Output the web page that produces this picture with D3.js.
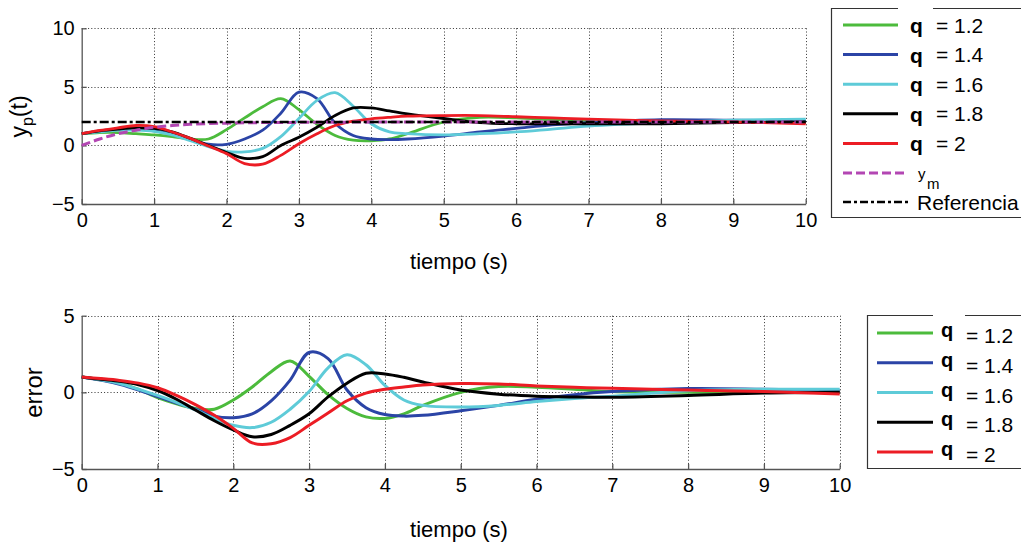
<!DOCTYPE html>
<html>
<head>
<meta charset="utf-8">
<script src="https://cdn.jsdelivr.net/npm/d3@7"></script>
<style>
  body { margin: 0; background: #fff; }
  svg { display: block; }
  text { font-family: "Liberation Sans", Arial, sans-serif; fill: #000; }
</style>
</head>
<body>
<svg id="chart" width="1021" height="543"></svg>
<script>
// Sample times (s)
const time = [0, 0.25, 0.5, 0.75, 1, 1.25, 1.5, 1.75, 2, 2.25, 2.5, 2.75, 3, 3.25, 3.5, 3.75, 4, 4.25, 4.5, 5, 5.5, 6, 6.5, 7, 8, 9, 10];

// Plant output y_p(t) for each fractional order q
const ypQ12 = [1.0, 1.1, 1.1, 1.0, 0.9, 0.75, 0.55, 0.55, 1.35, 2.35, 3.3, 4.0, 3.05, 1.8, 0.85, 0.45, 0.4, 0.55, 1.0, 2.0, 2.4, 2.35, 2.2, 2.05, 1.95, 1.95, 1.95];
const ypQ14 = [1.0, 1.2, 1.35, 1.4, 1.25, 0.95, 0.5, 0.1, 0.1, 0.55, 1.3, 2.75, 4.55, 4.0, 1.9, 0.85, 0.55, 0.5, 0.55, 0.8, 1.15, 1.45, 1.75, 1.95, 2.2, 2.15, 2.1];
const ypQ16 = [1.0, 1.15, 1.3, 1.3, 1.2, 0.9, 0.4, -0.1, -0.5, -0.55, -0.25, 0.75, 2.3, 3.85, 4.5, 3.35, 1.85, 1.15, 1.0, 0.9, 1.0, 1.15, 1.4, 1.65, 1.95, 2.15, 2.25];
const ypQ18 = [1.0, 1.25, 1.4, 1.5, 1.45, 1.15, 0.6, 0.0, -0.6, -1.1, -0.95, 0.0, 0.7, 1.55, 2.55, 3.2, 3.2, 2.95, 2.7, 2.3, 1.95, 1.85, 1.85, 1.85, 1.85, 1.95, 2.0];
const ypQ20 = [1.0, 1.28, 1.5, 1.7, 1.6, 1.15, 0.6, -0.05, -0.7, -1.55, -1.6, -0.85, 0.15, 1.0, 1.7, 2.07, 2.27, 2.4, 2.5, 2.55, 2.55, 2.45, 2.35, 2.25, 2.1, 2.0, 1.85];

// Reference model output y_m and set point
const ym = [0, 0.55, 1.0, 1.3, 1.55, 1.7, 1.8, 1.86, 1.9, 1.93, 1.95, 1.96, 1.97, 1.98, 1.98, 1.99, 1.99, 2.0, 2.0, 2.0, 2.0, 2.0, 2.0, 2.0, 2.0, 2.0, 2.0];
const refTime = [0, 10];
const referencia = [2, 2];

// Tracking error for each q
const errQ12 = [1.0, 0.82, 0.6, 0.2, -0.35, -0.75, -1.05, -1.1, -0.5, 0.35, 1.35, 2.05, 1.05, -0.15, -1.05, -1.6, -1.7, -1.4, -0.85, 0.0, 0.38, 0.33, 0.2, 0.05, 0.0, 0.0, 0.0];
const errQ14 = [1.0, 0.8, 0.52, 0.15, -0.28, -0.7, -1.1, -1.55, -1.65, -1.4, -0.55, 0.8, 2.6, 2.2, 0.15, -1.0, -1.45, -1.55, -1.5, -1.2, -0.85, -0.45, -0.15, 0.05, 0.25, 0.2, 0.1];
const errQ16 = [1.0, 0.82, 0.58, 0.2, -0.2, -0.65, -1.15, -1.7, -2.15, -2.3, -1.95, -1.1, 0.05, 1.6, 2.45, 1.8, 0.45, -0.5, -0.85, -0.95, -0.85, -0.6, -0.4, -0.25, 0.1, 0.2, 0.2];
const errQ18 = [1.0, 0.85, 0.72, 0.5, 0.12, -0.45, -1.15, -1.85, -2.45, -2.9, -2.75, -2.15, -1.4, -0.3, 0.6, 1.25, 1.2, 0.98, 0.68, 0.15, -0.12, -0.25, -0.3, -0.32, -0.2, -0.05, 0.0];
const errQ20 = [1.0, 0.9, 0.78, 0.6, 0.3, -0.2, -0.8, -1.5, -2.35, -3.3, -3.35, -2.95, -2.15, -1.35, -0.55, -0.05, 0.2, 0.35, 0.48, 0.58, 0.55, 0.42, 0.33, 0.26, 0.15, 0.05, -0.1];

const qLabels = ["1.2", "1.4", "1.6", "1.8", "2"];
const qColors = ["#4cbb3c", "#2b44a6", "#5ecbd8", "#000000", "#ec1c24"];
const ymColor = "#b346b3";

const xTicks = [0, 1, 2, 3, 4, 5, 6, 7, 8, 9, 10];
const yTicksTop = [-5, 0, 5, 10];
const yTicksBottom = [-5, 0, 5];

const svg = d3.select("#chart");
svg.append("rect").attr("width", 1021).attr("height", 543).attr("fill", "#fff");

function panel(opts) {
  const x = d3.scaleLinear().domain([0, 10]).range([opts.left, opts.right]);
  const y = d3.scaleLinear().domain(opts.yDomain).range([opts.bottom, opts.top]);
  const g = svg.append("g");

  // dotted grid
  const grid = g.append("g").attr("stroke", "#333").attr("stroke-width", 1)
    .attr("stroke-dasharray", "1,2.2");
  grid.selectAll("line.v").data(xTicks.filter(t => t > 0)).join("line")
    .attr("x1", d => Math.round(x(d)) + 0.5).attr("x2", d => Math.round(x(d)) + 0.5)
    .attr("y1", opts.top).attr("y2", opts.bottom);
  grid.selectAll("line.h").data(opts.yTicks.filter(t => t > opts.yDomain[0])).join("line")
    .attr("y1", d => Math.round(y(d)) + 0.5).attr("y2", d => Math.round(y(d)) + 0.5)
    .attr("x1", opts.left).attr("x2", opts.right);

  // axes with inward ticks
  const xAxis = d3.axisBottom(x).tickValues(xTicks).tickSizeInner(-5).tickSizeOuter(0).tickPadding(opts.xPad);
  const yAxis = d3.axisLeft(y).tickValues(opts.yTicks).tickSizeInner(-5).tickSizeOuter(0).tickPadding(7);
  const gx = g.append("g").attr("transform", `translate(0,${opts.bottom})`).call(xAxis);
  const gy = g.append("g").attr("transform", `translate(${opts.left},0)`).call(yAxis);
  [gx, gy].forEach(a => {
    a.select(".domain").attr("stroke", "#555").attr("stroke-width", 1.3);
    a.selectAll(".tick line").attr("stroke", "#555").attr("stroke-width", 1.3);
    a.selectAll(".tick text").attr("font-size", 20).attr("font-family", '"Liberation Sans", Arial, sans-serif').attr("fill", "#000");
  });

  return { g, x, y };
}

function lineGen(p, xs) {
  return d3.line()
    .x((d, i) => p.x(xs[i]))
    .y(d => p.y(d))
    .curve(d3.curveCatmullRom.alpha(0.5));
}

// ---------- Upper panel: plant output ----------
const upper = panel({ left: 81.7, right: 805.7, top: 28.3, bottom: 204, yDomain: [-5, 10], yTicks: yTicksTop, xPad: 9 });
const ypSeries = [ypQ12, ypQ14, ypQ16, ypQ18, ypQ20];
const lUpper = lineGen(upper, time);
ypSeries.forEach((s, i) => {
  upper.g.append("path").attr("d", lUpper(s)).attr("fill", "none")
    .attr("stroke", qColors[i]).attr("stroke-width", 2.8).attr("stroke-linejoin", "round");
});
upper.g.append("path").attr("d", lUpper(ym)).attr("fill", "none")
  .attr("stroke", ymColor).attr("stroke-width", 3).attr("stroke-dasharray", "9,4");
const lRef = d3.line().x((d, i) => upper.x(refTime[i])).y(d => upper.y(d));
upper.g.append("path").attr("d", lRef(referencia)).attr("fill", "none")
  .attr("stroke", "#000").attr("stroke-width", 2.6).attr("stroke-dasharray", "9,3,3,3");

// y label with subscript
const ylab = svg.append("text").attr("transform", "translate(27,116.5) rotate(-90)")
  .attr("text-anchor", "middle").attr("font-size", 23);
ylab.append("tspan").text("y");
ylab.append("tspan").attr("font-size", 16).attr("dy", 6).text("p");
ylab.append("tspan").attr("dy", -6).text("(t)");

svg.append("text").attr("x", 459).attr("y", 268.5).attr("text-anchor", "middle")
  .attr("font-family", "Lato, 'Open Sans', sans-serif").attr("font-size", 22).text("tiempo (s)");

// ---------- Lower panel: tracking error ----------
const lower = panel({ left: 81.7, right: 839.7, top: 315.7, bottom: 469, yDomain: [-5, 5], yTicks: yTicksBottom, xPad: 9 });
const errSeries = [errQ12, errQ14, errQ16, errQ18, errQ20];
const lLower = lineGen(lower, time);
errSeries.forEach((s, i) => {
  lower.g.append("path").attr("d", lLower(s)).attr("fill", "none")
    .attr("stroke", qColors[i]).attr("stroke-width", 3).attr("stroke-linejoin", "round");
});

svg.append("text").attr("transform", "translate(42,392.5) rotate(-90)")
  .attr("text-anchor", "middle").attr("font-size", 24).text("error");

svg.append("text").attr("x", 459).attr("y", 537).attr("text-anchor", "middle")
  .attr("font-family", "Lato, 'Open Sans', sans-serif").attr("font-size", 22).text("tiempo (s)");

// ---------- Legends ----------
function legendBox(x0, y0, x1, y1, gap0, gap1) {
  svg.append("path")
    .attr("d", `M${gap1},${y0}H${x1}V${y1}H${x0}V${y0}H${gap0}`)
    .attr("fill", "none").attr("stroke", "#333").attr("stroke-width", 1.2);
}

// upper legend
legendBox(831.5, 8.5, 1024, 217.5, 898, 933);
const upperRowY = d3.range(5).map(i => 25 + i * 29.6);
qLabels.forEach((lab, i) => {
  const yy = upperRowY[i];
  svg.append("line").attr("x1", 843).attr("x2", 898).attr("y1", yy).attr("y2", yy)
    .attr("stroke", qColors[i]).attr("stroke-width", 3);
  svg.append("text").attr("x", 910).attr("y", yy + 8).attr("font-size", 21).attr("font-weight", "bold").text("q");
  svg.append("text").attr("x", 936).attr("y", yy + 7.5).attr("font-size", 21).text("= " + lab);
});
svg.append("line").attr("x1", 843).attr("x2", 908).attr("y1", 173).attr("y2", 173)
  .attr("stroke", ymColor).attr("stroke-width", 3).attr("stroke-dasharray", "9,4");
svg.append("text").attr("x", 918).attr("y", 179).attr("font-size", 15).text("y");
svg.append("text").attr("x", 927).attr("y", 188.5).attr("font-size", 15).text("m");
svg.append("line").attr("x1", 843).attr("x2", 908).attr("y1", 202).attr("y2", 202)
  .attr("stroke", "#000").attr("stroke-width", 2.6).attr("stroke-dasharray", "8,3,3,3");
svg.append("text").attr("x", 917).attr("y", 210).attr("font-size", 21).text("Referencia");

// lower legend
legendBox(867.5, 315.5, 1024, 468.5, 933, 965);
const lowerRowY = d3.range(5).map(i => 333 + i * 29.75);
qLabels.forEach((lab, i) => {
  const yy = lowerRowY[i];
  svg.append("line").attr("x1", 877).attr("x2", 933).attr("y1", yy).attr("y2", yy)
    .attr("stroke", qColors[i]).attr("stroke-width", 3);
  svg.append("text").attr("x", 941).attr("y", yy + 4).attr("font-size", 20).attr("font-weight", "bold").text("q");
  svg.append("text").attr("x", 966).attr("y", yy + 10).attr("font-size", 21).text("= " + lab);
});
</script>
</body>
</html>
